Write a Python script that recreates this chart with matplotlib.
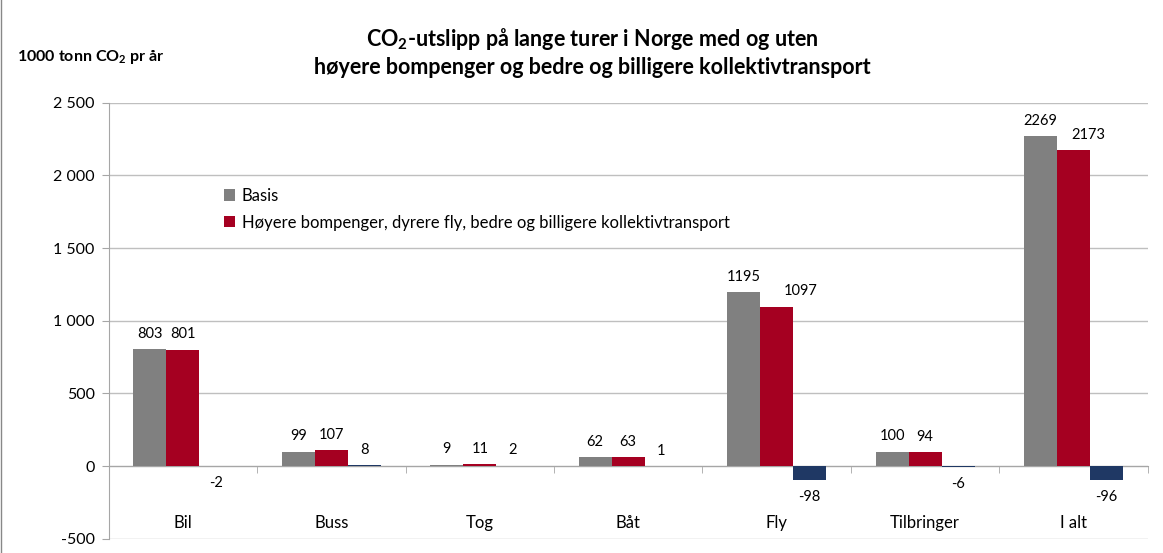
import matplotlib
matplotlib.use("Agg")
import matplotlib.pyplot as plt
from matplotlib.patches import Rectangle
from matplotlib.ticker import FuncFormatter, MultipleLocator
import numpy as np

plt.rcParams['font.family'] = ['Lato', 'DejaVu Sans']
plt.rcParams['mathtext.fontset'] = 'custom'
plt.rcParams['mathtext.rm'] = 'Lato'
plt.rcParams['mathtext.bf'] = 'Lato:bold'

categories = ["Bil", "Buss", "Tog", "Båt", "Fly", "Tilbringer", "I alt"]
basis = [803, 99, 9, 62, 1195, 100, 2269]
scenario = [801, 107, 11, 63, 1097, 94, 2173]
difference = [-2, 8, 2, 1, -98, -6, -96]
series_names = ["Basis", "Høyere bompenger, dyrere fly, bedre og billigere kollektivtransport"]
colors = ["#808080", "#A50021", "#1F3864"]

# manual horizontal nudges (points) of some data labels, as in the original chart
label_nudge = {(1, 4): 17, (1, 6): 11}

W, H = 1163, 553
fig = plt.figure(figsize=(W / 100, H / 100), dpi=100)
fig.patches.append(Rectangle((1 / W, -0.2), 1.2, 1.2 + (1 - 9 / H), transform=fig.transFigure,
                             fill=False, edgecolor="#888888", linewidth=1.0))

left, right, top, bottom = 108.7, 1147.7, 102.7, 538.7
ax = fig.add_axes([left / W, 1 - bottom / H, (right - left) / W, (bottom - top) / H])

x = np.arange(len(categories))
bw = 1 / 4.5
series = [basis, scenario, difference]
for i, (vals, c) in enumerate(zip(series, colors)):
    pos = x + (i - 1) * bw
    label = series_names[i] if i < 2 else None
    ax.bar(pos, vals, width=bw, color=c, label=label, zorder=5)
    for j, (px, v) in enumerate(zip(pos, vals)):
        off = 11 if v >= 0 else -12
        dx = label_nudge.get((i, j), 0)
        ax.annotate(str(v), (px, v), xytext=(dx, off), textcoords="offset points",
                    ha="center", va="center", fontsize=10.5, color="#000000")

ax.set_xlim(-0.5, len(categories) - 0.5)
ax.set_ylim(-500, 2500)
ax.yaxis.set_major_locator(MultipleLocator(500))
ax.yaxis.set_major_formatter(FuncFormatter(lambda v, p: f"{v:,.0f}".replace(",", " ")))
ax.grid(axis="y", color="#BFBFBF", linewidth=1.0, zorder=0)
ax.set_axisbelow(True)

for s in ["top", "right"]:
    ax.spines[s].set_visible(False)
ax.spines["left"].set_color("#A6A6A6")
ax.spines["bottom"].set_color("#A6A6A6")
ax.spines["bottom"].set_position(("data", 0))
ax.spines["bottom"].set_zorder(4)

ax.tick_params(axis="y", length=5, color="#A6A6A6", labelsize=11.5, pad=5, labelcolor="#000000")
ax.set_xticks(x, categories)
ax.tick_params(axis="x", which="major", length=0, pad=35, labelsize=12)
ax.set_xticks(np.arange(len(categories) + 1) - 0.5, minor=True)
ax.tick_params(axis="x", which="minor", length=5, color="#A6A6A6", direction="out")

ax.legend(loc="upper left", bbox_to_anchor=(0.105, 0.82), frameon=False, fontsize=12,
          handlelength=0.65, handleheight=0.65, handletextpad=0.4, labelspacing=0.65,
          borderaxespad=0)

fig.text(0.509, 0.930, "CO$_\\mathbf{2}$-utslipp på lange turer i Norge med og uten",
         ha="center", va="center", fontsize=15.5, fontweight="bold")
fig.text(0.509, 0.878, "høyere bompenger og bedre og billigere kollektivtransport",
         ha="center", va="center", fontsize=15.5, fontweight="bold")
fig.text(17 / W, 1 - 57 / H, "1000 tonn CO$_\\mathbf{2}$ pr år", ha="left", va="center",
         fontsize=11.5, fontweight="bold")

fig.savefig("out.png", dpi=100)
